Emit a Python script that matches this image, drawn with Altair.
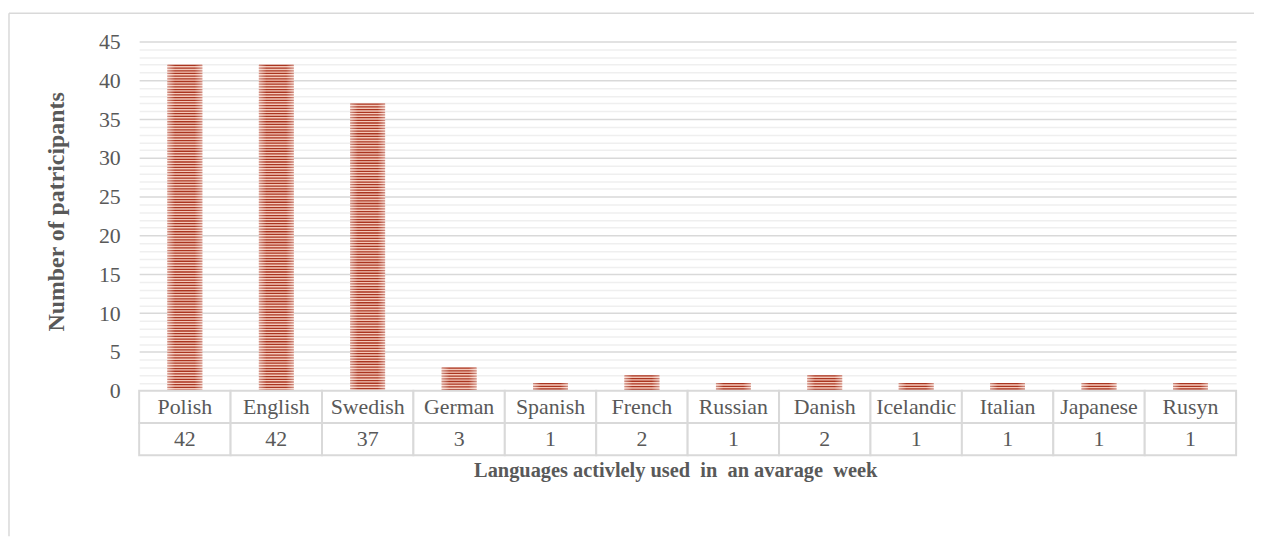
import altair as alt
import pandas as pd

languages = ["Polish", "English", "Swedish", "German", "Spanish", "French",
             "Russian", "Danish", "Icelandic", "Italian", "Japanese", "Rusyn"]
counts = [42, 42, 37, 3, 1, 2, 1, 2, 1, 1, 1, 1]
major_ticks = [0, 5, 10, 15, 20, 25, 30, 35, 40, 45]
minor_ticks = [1, 2, 3, 4, 6, 7, 8, 9, 11, 12, 13, 14, 16, 17, 18, 19,
               21, 22, 23, 24, 26, 27, 28, 29, 31, 32, 33, 34, 36, 37, 38, 39,
               41, 42, 43, 44]
row_names = ["name", "count"]
x_title = "Languages activlely used\u00a0 in\u00a0 an avarage\u00a0 week"
y_title = "Number of patricipants"

FONT = "Liberation Serif"
TXT = "#595959"
W, H = 1254, 530

df = pd.DataFrame({"lang": languages, "count": counts})
table_rows = []
for lang, c in zip(languages, counts):
    table_rows.append({"lang": lang, "row": "name", "text": lang})
    table_rows.append({"lang": lang, "row": "count", "text": str(c)})
tdf = pd.DataFrame(table_rows)

xscale = alt.Scale(domain=languages, range=[132, 1236], paddingInner=0, paddingOuter=0)
yscale = alt.Scale(domain=[0, 45], range=[383.5, 32], nice=False, zero=True)
rscale = alt.Scale(domain=row_names, range=[383.5, 448.5], paddingInner=0, paddingOuter=0)

y_axis = alt.Axis(values=major_ticks, grid=True, gridColor="#D9D9D9", gridWidth=1.5,
                  domain=False, ticks=False, orient="left", offset=-121, labelPadding=8,
                  labelFont=FONT, labelFontSize=22, labelColor=TXT,
                  title=y_title, titleFont=FONT, titleFontSize=24,
                  titleFontWeight="bold", titleColor=TXT, titleAngle=270,
                  titleX=-72, titleY=203, titleBaseline="middle", titleAlign="center")

minor_axis = alt.Axis(values=minor_ticks, grid=True, gridColor="#EFEFEF", gridWidth=1.5,
                      domain=False, ticks=False, labels=False, orient="left", offset=-121,
                      title=None)

X = alt.X("lang:N", scale=xscale, sort=languages, axis=None)

base_bar = alt.Chart(df).mark_bar(width=35, fill="#F4C9BA").encode(
    x=X,
    y=alt.Y("count:Q", scale=yscale, axis=y_axis),
)

stripes = alt.Chart(df).mark_rule(strokeWidth=35, strokeDash=[1.3, 1.4],
                                  strokeCap="butt", color="#AA3520").encode(
    x=X,
    y=alt.Y("count:Q", scale=yscale, axis=minor_axis),
    y2=alt.datum(0),
)

shine = alt.Chart(df).mark_bar(
    width=35,
    fill=alt.Gradient(
        gradient="linear", x1=0, x2=1, y1=0, y2=0,
        stops=[alt.GradientStop(color="rgba(255,255,255,0.45)", offset=0),
               alt.GradientStop(color="rgba(255,255,255,0)", offset=0.22),
               alt.GradientStop(color="rgba(255,255,255,0)", offset=0.78),
               alt.GradientStop(color="rgba(255,255,255,0.45)", offset=1)],
    ),
).encode(x=X, y=alt.Y("count:Q", scale=yscale, axis=None))

cells = alt.Chart(tdf).mark_rect(fill="white", stroke="#D9D9D9", strokeWidth=2).encode(
    x=X,
    y=alt.Y("row:N", scale=rscale, sort=row_names, axis=None),
)

texts = alt.Chart(tdf).mark_text(font=FONT, fontSize=22, color=TXT).encode(
    x=X,
    y=alt.Y("row:N", scale=rscale, sort=row_names, axis=None),
    text="text:N",
)

frame_df = pd.DataFrame({"a": [0]})
frame_top = alt.Chart(frame_df).mark_rule(color="#D9D9D9", strokeWidth=1.5).encode(
    x=alt.value(1), x2=alt.value(W), y=alt.value(3.5))
frame_left = alt.Chart(frame_df).mark_rule(color="#D9D9D9", strokeWidth=1.5).encode(
    x=alt.value(1), y=alt.value(3.5), y2=alt.value(H))
xtitle = alt.Chart(frame_df).mark_text(font=FONT, fontSize=20.5, fontWeight="bold",
                                        color=TXT, align="center", baseline="middle").encode(
    x=alt.value(672), y=alt.value(464), text=alt.value(x_title))

chart = alt.layer(
    frame_top, frame_left, base_bar, stripes, shine, cells, texts, xtitle
).resolve_scale(y="independent").properties(
    width=W, height=H,
    autosize=alt.AutoSizeParams(type="none"),
    padding=0,
    background="white",
).configure_view(stroke=None)

chart.save("out.html", embed_options={"renderer": "svg", "actions": False})
